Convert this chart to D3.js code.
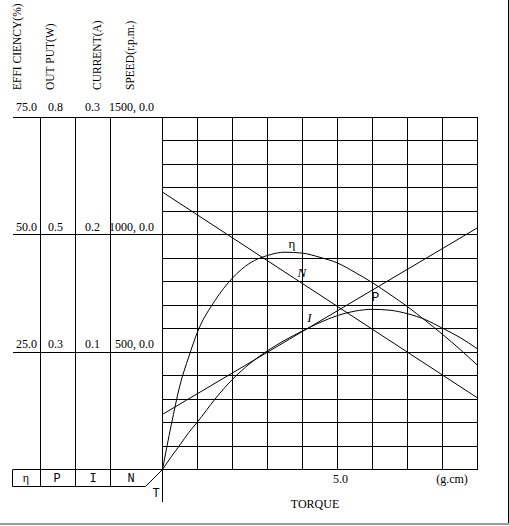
<!DOCTYPE html>
<html>
<head>
<meta charset="utf-8">
<script src="https://cdn.jsdelivr.net/npm/d3@7"></script>
<style>
  body { margin: 0; background: #fff; }
  svg { display: block; }
  text { font-family: "Liberation Serif", "DejaVu Serif", serif; fill: #000; }
  .mono { font-family: "Liberation Mono", "DejaVu Sans Mono", monospace; }
</style>
</head>
<body>
<svg id="chart"></svg>
<script>
// torque (g.cm) sample points
const torque = [0, 0.25, 0.5, 0.75, 1, 1.5, 2, 2.5, 3, 3.5, 4, 4.5, 5, 5.5, 6, 6.5, 7, 7.5, 8, 8.5, 9];
const efficiency = [0, 9.5, 18, 24, 29.3, 36, 40.8, 44, 45.6, 46.3, 46.1, 45.2, 44, 42, 39.8, 37.3, 34.7, 31.8, 28.8, 25.6, 22.2];
const output = [0, 0.029, 0.056, 0.084, 0.108, 0.16, 0.205, 0.241, 0.27, 0.294, 0.315, 0.334, 0.35, 0.36, 0.364, 0.362, 0.354, 0.341, 0.321, 0.3, 0.274];

// straight lines: end points only
const torqueEnds = [0, 9];
const current = [0.047, 0.206];
const speed = [1182, 305];

// axis texts
const axisTitles = ["EFFI CIENCY(%)", "OUT PUT(W)", "CURRENT(A)", "SPEED(r.p.m.)"];
const tickLevels = [75, 50, 25];
const effTicks = ["75.0", "50.0", "25.0"];
const outTicks = ["0.8", "0.5", "0.3"];
const curTicks = ["0.3", "0.2", "0.1"];
const spdTicks = ["1500, 0.0", "1000, 0.0", "500, 0.0"];
const legendSymbols = ["η", "P", "I", "N"];
const torqueTicks = [5];

const width = 509, height = 526;
const svg = d3.select("#chart").attr("width", width).attr("height", height);

const x = d3.scaleLinear().domain([0, 9]).range([162.5, 477.5]);
const yEff = d3.scaleLinear().domain([0, 75]).range([469.5, 117.5]);
const yOut = d3.scaleLinear().domain([0, 0.8]).range(yEff.range());
const yCur = d3.scaleLinear().domain([0, 0.3]).range(yEff.range());
const ySpd = d3.scaleLinear().domain([0, 1500]).range(yEff.range());

// left panel column edges and label right edges
const colEdges = [12.5, 40.5, 75.5, 110.5];
const labelRight = [37, 63, 100, 154];
const titleX = [21, 54, 101, 134];
const legendCx = [26, 57, 93, 131];

const grid = svg.append("g")
  .attr("stroke", "#000")
  .attr("stroke-width", 1)
  .attr("shape-rendering", "crispEdges");

// vertical grid lines
grid.selectAll(".vx")
  .data(d3.range(0, 10))
  .enter().append("line")
  .attr("x1", d => x(d)).attr("x2", d => x(d))
  .attr("y1", yEff(75)).attr("y2", d => d === 0 ? 502 : yEff(0));

// horizontal grid lines
grid.selectAll(".hy")
  .data(d3.range(0, 80, 5))
  .enter().append("line")
  .attr("x1", d => (d === 75 || d === 50 || d === 25 || d === 0) ? colEdges[0] : x(0))
  .attr("x2", x(9))
  .attr("y1", d => yEff(d)).attr("y2", d => yEff(d));

// left panel column separators
grid.selectAll(".col")
  .data(colEdges.slice(1))
  .enter().append("line")
  .attr("x1", d => d).attr("x2", d => d)
  .attr("y1", yEff(75)).attr("y2", 486.5);

// legend box under the left panel
svg.append("path")
  .attr("fill", "none")
  .attr("stroke", "#000")
  .attr("d", `M${colEdges[0]},${yEff(0)}V486.5H145.5L${x(0)},${yEff(0)}`);

// window border
svg.append("line").attr("x1", 508.5).attr("x2", 508.5).attr("y1", 0).attr("y2", 523)
  .attr("stroke", "#000");
svg.append("line").attr("x1", 0).attr("x2", 509).attr("y1", 524).attr("y2", 524)
  .attr("stroke", "#9a9a9a").attr("stroke-width", 2);

// vertical axis titles
axisTitles.forEach((t, i) => {
  svg.append("text")
    .attr("transform", `translate(${titleX[i]},90) rotate(-90)`)
    .style("font-size", "11.5px")
    .text(t);
});

// tick labels for the four value axes
[effTicks, outTicks, curTicks, spdTicks].forEach((labels, c) => {
  labels.forEach((lab, i) => {
    svg.append("text")
      .attr("x", labelRight[c])
      .attr("y", yEff(tickLevels[i]) - (i === 0 ? 7 : 4))
      .attr("text-anchor", "end")
      .style("font-size", "12px")
      .text(lab);
  });
});

// legend symbols
legendSymbols.forEach((s, i) => {
  svg.append("text")
    .attr("class", s === "η" ? null : "mono")
    .attr("x", legendCx[i])
    .attr("y", 482)
    .attr("text-anchor", "middle")
    .style("font-size", "12px")
    .text(s);
});
svg.append("text").attr("class", "mono")
  .attr("x", 156).attr("y", 497).attr("text-anchor", "middle")
  .style("font-size", "12px").text("T");

// torque axis labels
svg.selectAll(".tt")
  .data(torqueTicks)
  .enter().append("text")
  .attr("x", d => x(d) + 3)
  .attr("y", 483)
  .attr("text-anchor", "middle")
  .style("font-size", "12px")
  .text(d => d.toFixed(1));
svg.append("text").attr("x", 452).attr("y", 483).attr("text-anchor", "middle")
  .style("font-size", "12px").text("(g.cm)");
svg.append("text").attr("x", 315).attr("y", 508).attr("text-anchor", "middle")
  .style("font-size", "12px").text("TORQUE");

// curves
const curves = svg.append("g").attr("fill", "none").attr("stroke", "#000").attr("stroke-width", 1);

const effLine = d3.line().x((d, i) => x(torque[i])).y(d => yEff(d)).curve(d3.curveMonotoneX);
const outLine = d3.line().x((d, i) => x(torque[i])).y(d => yOut(d)).curve(d3.curveMonotoneX);
const curLine = d3.line().x((d, i) => x(torqueEnds[i])).y(d => yCur(d));
const spdLine = d3.line().x((d, i) => x(torqueEnds[i])).y(d => ySpd(d));

curves.append("path").attr("d", effLine(efficiency));
curves.append("path").attr("d", outLine(output));
curves.append("path").attr("d", curLine(current));
curves.append("path").attr("d", spdLine(speed));

// curve labels (torque, efficiency-scale position)
const curveLabels = [
  { t: 3.7, v: 47.2, s: "η", it: false },
  { t: 3.98, v: 41.0, s: "N", it: true },
  { t: 4.2, v: 31.5, s: "I", it: true },
  { t: 6.08, v: 36.0, s: "P", it: false }
];
curveLabels.forEach(d => {
  svg.append("text")
    .attr("class", d.s === "P" ? "mono" : null)
    .attr("x", x(d.t))
    .attr("y", yEff(d.v))
    .attr("text-anchor", "middle")
    .style("font-size", "13px")
    .style("font-style", d.it ? "italic" : null)
    .text(d.s);
});
</script>
</body>
</html>
